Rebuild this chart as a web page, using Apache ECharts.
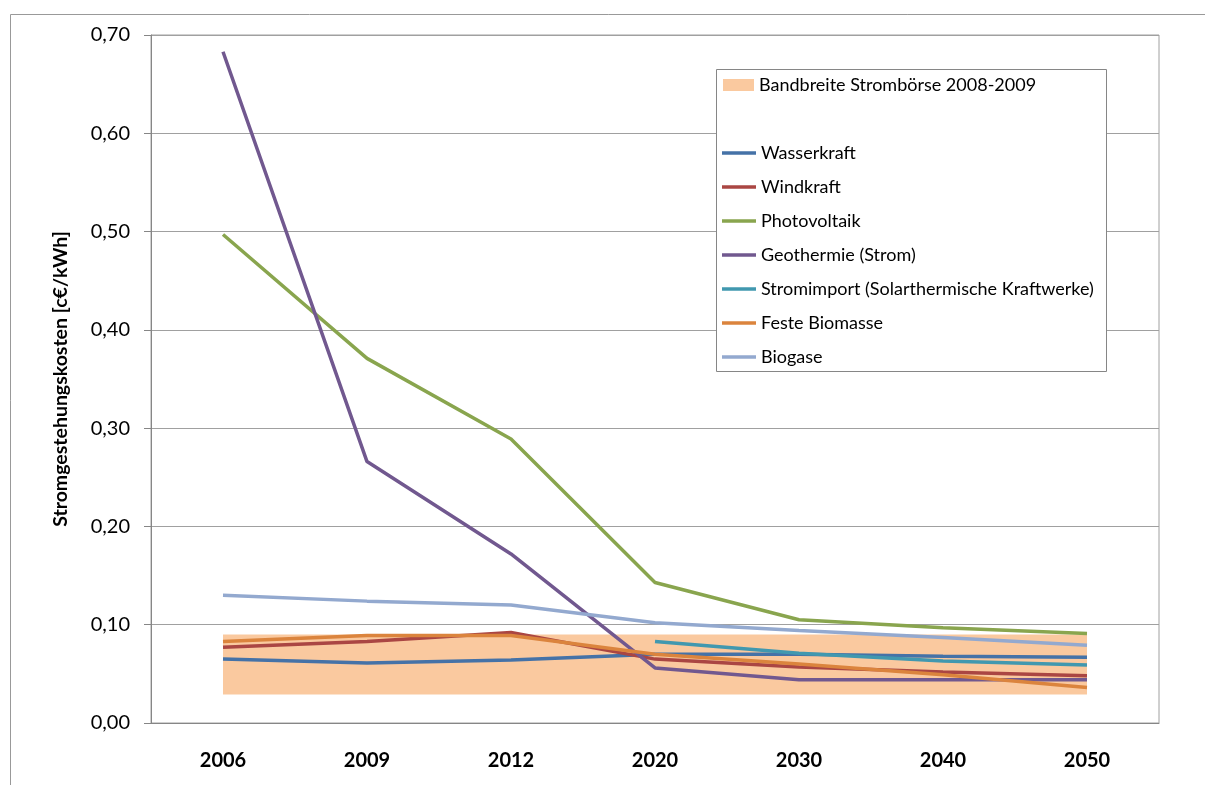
<!DOCTYPE html>
<html>
<head>
<meta charset="utf-8">
<script src="https://cdn.jsdelivr.net/npm/echarts@6/dist/echarts.min.js"></script>
<style>
  html, body { margin: 0; padding: 0; background: #fff; }
  #chart { width: 1205px; height: 785px; }
</style>
</head>
<body>
<div id="chart"></div>
<script>
// Jahre (Kategorien)
var years = ['2006', '2009', '2012', '2020', '2030', '2040', '2050'];

// Stromgestehungskosten in c€/kWh
var wasserkraft    = [0.065, 0.061, 0.064, 0.070, 0.070, 0.068, 0.067];
var windkraft      = [0.077, 0.083, 0.092, 0.065, 0.057, 0.052, 0.048];
var photovoltaik   = [0.497, 0.371, 0.289, 0.143, 0.105, 0.097, 0.091];
var geothermie     = [0.683, 0.266, 0.172, 0.056, 0.044, 0.044, 0.044];
var stromimport    = ['-', '-', '-', 0.083, 0.071, 0.063, 0.059];
var festeBiomasse  = [0.083, 0.089, 0.089, 0.070, 0.060, 0.049, 0.036];
var biogase        = [0.130, 0.124, 0.120, 0.102, 0.094, 0.087, 0.079];

// Bandbreite Strombörse: von/bis Jahr und unterer/oberer Wert
var bandYears = ['2006', '2050'];
var bandRange = [0.029, 0.09];

var bandName = 'Bandbreite Strombörse 2008-2009';
var lineNames = ['Wasserkraft', 'Windkraft', 'Photovoltaik', 'Geothermie (Strom)',
  'Stromimport (Solarthermische Kraftwerke)', 'Feste Biomasse', 'Biogase'];
var lineData = [wasserkraft, windkraft, photovoltaik, geothermie, stromimport, festeBiomasse, biogase];
var lineColors = ['#4572A7', '#AA4643', '#89A54E', '#71588F', '#4198AF', '#DB843D', '#93A9CF'];

var FONT = 'Lato';
var chart = echarts.init(document.getElementById('chart'));

var series = [{
  name: bandName,
  type: 'line',
  data: years.map(function () { return '-'; }),
  color: '#FAC99F',
  z: 1,
  markArea: {
    silent: true,
    itemStyle: { color: '#FAC99F' },
    data: [[
      { xAxis: bandYears[0], yAxis: bandRange[0] },
      { xAxis: bandYears[1], yAxis: bandRange[1] }
    ]]
  }
}];

lineNames.forEach(function (n, i) {
  series.push({
    name: n,
    type: 'line',
    data: lineData[i],
    symbol: 'none',
    color: lineColors[i],
    lineStyle: { width: 3.5, color: lineColors[i] },
    z: 2 + i
  });
});

var option = {
  animation: false,
  textStyle: { fontFamily: FONT },
  grid: { left: 151, right: 46, top: 35, bottom: 62, show: true, borderColor: '#A0A0A0', borderWidth: 1 },
  graphic: {
    elements: [
      { type: 'rect', z: 0, shape: { x: 10.5, y: 14.5, width: 1220, height: 800 },
        style: { fill: 'none', stroke: '#999', lineWidth: 1 } },
      { type: 'rect', z: 3, shape: { x: 716.5, y: 69.5, width: 390, height: 302 },
        style: { fill: '#fff', stroke: '#868686', lineWidth: 1 } }
    ]
  },
  legend: [{
    data: [{ name: bandName, icon: 'rect', itemStyle: { color: '#FAC99F' } }],
    left: 723, top: 75, padding: 0,
    itemWidth: 31, itemHeight: 12,
    textStyle: { fontFamily: FONT, fontSize: 18, color: '#000', lineHeight: 20 },
    selectedMode: false
  }, {
    data: lineNames.map(function (n) { return { name: n, icon: 'rect' }; }),
    orient: 'vertical',
    left: 722, top: 143, padding: 0,
    itemWidth: 34, itemHeight: 3.5, itemGap: 14,
    textStyle: { fontFamily: FONT, fontSize: 18, color: '#000', lineHeight: 20 },
    selectedMode: false
  }],
  xAxis: {
    type: 'category',
    data: years,
    boundaryGap: true,
    axisLine: { lineStyle: { color: '#868686', width: 1 } },
    axisTick: { length: 7, lineStyle: { color: '#868686' } },
    axisLabel: { margin: 28, fontFamily: FONT, fontSize: 20, fontWeight: 'bold', color: '#000' },
    splitLine: { show: false }
  },
  yAxis: {
    type: 'value',
    min: 0, max: 0.7, interval: 0.1,
    name: 'Stromgestehungskosten [c€/kWh]',
    nameLocation: 'middle',
    nameGap: 80,
    nameRotate: 90,
    nameTextStyle: { fontFamily: FONT, fontSize: 19.5, fontWeight: 'bold', color: '#000' },
    axisLine: { show: true, lineStyle: { color: '#868686', width: 1 } },
    axisTick: { show: true, length: 7, lineStyle: { color: '#868686' } },
    axisLabel: {
      margin: 21, fontFamily: FONT, fontSize: 20, color: '#000',
      formatter: function (v) { return v.toFixed(2).replace('.', ','); }
    },
    splitLine: { lineStyle: { color: '#A0A0A0', width: 1 } }
  },
  series: series
};

chart.setOption(option);
</script>
</body>
</html>
